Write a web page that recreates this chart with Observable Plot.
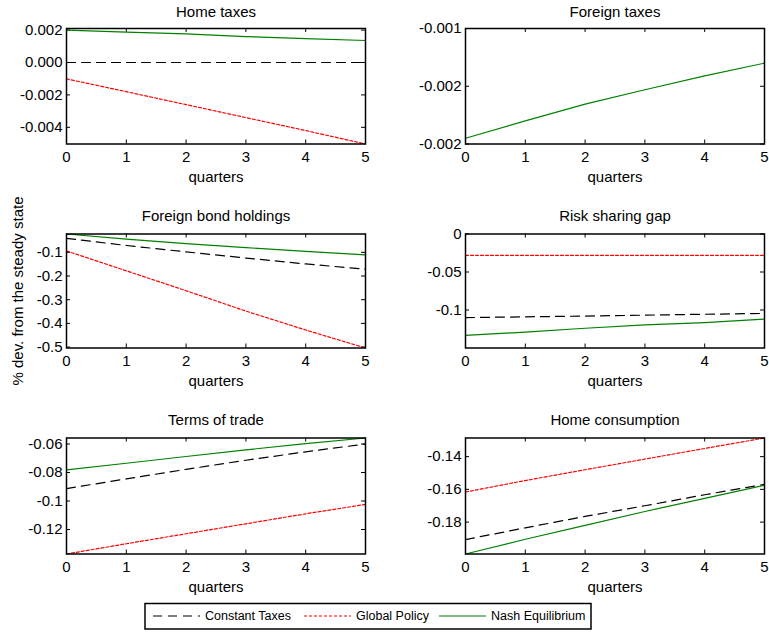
<!DOCTYPE html>
<html>
<head>
<meta charset="utf-8">
<script src="https://cdn.jsdelivr.net/npm/d3@7"></script>
<script src="https://cdn.jsdelivr.net/npm/@observablehq/plot@0.6"></script>
<style>
  body { margin: 0; background: #fff; }
  #chart { position: relative; width: 769px; height: 635px; background: #fff; font-family: "Liberation Sans", Arial, sans-serif; }
  #chart > svg { position: absolute; }
</style>
</head>
<body>
<div id="chart"></div>
<script>
// ---- data ----
const quarters = [0, 1, 2, 3, 4, 5];
const seriesNames = ["Constant Taxes", "Global Policy", "Nash Equilibrium"];

// Home taxes
const homeTaxesConst  = [0, 0, 0, 0, 0, 0];
const homeTaxesGlobal = [-0.00101, -0.0018, -0.0026, -0.0034, -0.0042, -0.00503];
const homeTaxesNash   = [0.0020, 0.00188, 0.00177, 0.00160, 0.00148, 0.00136];
const homeTaxesTicks  = [0.002, 0, -0.002, -0.004];
const homeTaxesLabels = ["0.002", "0.000", "-0.002", "-0.004"];

// Foreign taxes
const foreignTaxesNash   = [-0.00195, -0.0018, -0.001655, -0.00153, -0.00141, -0.0013];
const foreignTaxesTicks  = [-0.001, -0.0015, -0.002];
const foreignTaxesLabels = ["-0.001", "-0.002", "-0.002"];

// Foreign bond holdings
const bondsConst  = [-0.041, -0.071, -0.098, -0.124, -0.149, -0.171];
const bondsGlobal = [-0.094, -0.178, -0.262, -0.348, -0.428, -0.504];
const bondsNash   = [-0.0225, -0.044, -0.063, -0.080, -0.096, -0.111];
const bondsTicks  = [-0.1, -0.2, -0.3, -0.4, -0.5];
const bondsLabels = ["-0.1", "-0.2", "-0.3", "-0.4", "-0.5"];

// Risk sharing gap
const riskConst  = [-0.110, -0.109, -0.108, -0.1068, -0.1056, -0.1045];
const riskGlobal = [-0.028, -0.028, -0.028, -0.028, -0.028, -0.028];
const riskNash   = [-0.1335, -0.129, -0.124, -0.1197, -0.1167, -0.112];
const riskTicks  = [0, -0.05, -0.1];
const riskLabels = ["0", "-0.05", "-0.1"];

// Terms of trade
const totConst  = [-0.0913, -0.0845, -0.0778, -0.0714, -0.0655, -0.0600];
const totGlobal = [-0.1372, -0.1300, -0.1230, -0.1160, -0.1090, -0.1024];
const totNash   = [-0.0781, -0.0735, -0.0688, -0.0641, -0.0598, -0.0558];
const totTicks  = [-0.06, -0.08, -0.1, -0.12];
const totLabels = ["-0.06", "-0.08", "-0.1", "-0.12"];

// Home consumption
const consConst  = [-0.1907, -0.1835, -0.1765, -0.1700, -0.1633, -0.1569];
const consGlobal = [-0.1616, -0.1546, -0.1480, -0.1415, -0.1350, -0.1286];
const consNash   = [-0.1995, -0.1905, -0.1820, -0.1735, -0.1655, -0.1575];
const consTicks  = [-0.14, -0.16, -0.18];
const consLabels = ["-0.14", "-0.16", "-0.18"];

// ---- styles ----
const lineStyles = {
  "Constant Taxes":   {stroke: "#000000", strokeDasharray: "9,6"},
  "Global Policy":    {stroke: "#ff0000", strokeDasharray: "3,2"},
  "Nash Equilibrium": {stroke: "#008000", strokeDasharray: null}
};

const FONT = "'Liberation Sans', Arial, sans-serif";

function rows(arr) { return quarters.map((q, i) => ({q, v: arr[i]})); }

function panel(cfg) {
  const {title, series, yDomain, yTicks, yLabels, col, row, ylabel} = cfg;
  const width = col === 0 ? 384 : 385;
  const marginLeft = col === 0 ? 66 : 81;
  const marginRight = col === 0 ? 19 : 5;
  const height = 200;
  const mt = [28, 33.5, 37.5][row];
  const mb = [56.5, 52.5, 46.5][row];
  const titleDy = [-16.5, -17.7, -18.3][row];
  const fh = height - mt - mb;
  const fw = width - marginLeft - marginRight;
  const labelMap = new Map(yTicks.map((t, i) => [t, yLabels[i]]));
  const marks = [
    Plot.axisX(quarters, {tickSize: 0, tickPadding: 7, label: null, tickFormat: d => String(d), fontSize: 15}),
    Plot.axisY(yTicks, {tickSize: 0, tickPadding: 4, label: null, tickFormat: d => labelMap.get(d), fontSize: 15}),
    Plot.tickX(quarters, {x: d => d, insetTop: fh - 4, stroke: "black"}),
    Plot.tickX(quarters, {x: d => d, insetBottom: fh - 4, stroke: "black"}),
    Plot.tickY(yTicks, {y: d => d, insetRight: fw - 4, stroke: "black"}),
    Plot.tickY(yTicks, {y: d => d, insetLeft: fw - 4, stroke: "black"})
  ];
  for (const [name, arr] of series) {
    const s = lineStyles[name];
    marks.push(Plot.line(rows(arr), {x: "q", y: "v", stroke: s.stroke, strokeDasharray: s.strokeDasharray, strokeWidth: 1.2}));
  }
  marks.push(Plot.frame({stroke: "black", strokeWidth: 1.5}));
  marks.push(Plot.text([title], {frameAnchor: "top", lineAnchor: "middle", textAnchor: "middle", dy: titleDy, fontSize: 15, fill: "black"}));
  marks.push(Plot.text(["quarters"], {frameAnchor: "bottom", lineAnchor: "middle", textAnchor: "middle", dy: 33, fontSize: 15, fill: "black"}));
  if (ylabel) marks.push(Plot.text([ylabel], {frameAnchor: "left", lineAnchor: "middle", textAnchor: "middle", dx: -48, rotate: -90, fontSize: 15, fill: "black"}));
  const svg = Plot.plot({
    width, height, marginLeft, marginRight, marginTop: mt, marginBottom: mb,
    x: {domain: [0, 5]},
    y: {domain: yDomain},
    style: {fontFamily: FONT, fontSize: "15px", color: "black", background: "transparent", overflow: "visible"},
    marks
  });
  svg.style.left = (col === 0 ? 0 : 384) + "px";
  svg.style.top = (row * 200) + "px";
  return svg;
}

const chart = document.getElementById("chart");
chart.append(panel({title: "Home taxes", col: 0, row: 0, yDomain: [-0.00503, 0.0021], yTicks: homeTaxesTicks, yLabels: homeTaxesLabels,
  series: [["Constant Taxes", homeTaxesConst], ["Global Policy", homeTaxesGlobal], ["Nash Equilibrium", homeTaxesNash]]}));
chart.append(panel({title: "Foreign taxes", col: 1, row: 0, yDomain: [-0.002, -0.001], yTicks: foreignTaxesTicks, yLabels: foreignTaxesLabels,
  series: [["Nash Equilibrium", foreignTaxesNash]]}));
chart.append(panel({title: "Foreign bond holdings", col: 0, row: 1, yDomain: [-0.504, -0.0225], yTicks: bondsTicks, yLabels: bondsLabels,
  ylabel: "% dev. from the steady state",
  series: [["Constant Taxes", bondsConst], ["Global Policy", bondsGlobal], ["Nash Equilibrium", bondsNash]]}));
chart.append(panel({title: "Risk sharing gap", col: 1, row: 1, yDomain: [-0.15, 0], yTicks: riskTicks, yLabels: riskLabels,
  series: [["Constant Taxes", riskConst], ["Global Policy", riskGlobal], ["Nash Equilibrium", riskNash]]}));
chart.append(panel({title: "Terms of trade", col: 0, row: 2, yDomain: [-0.1372, -0.0558], yTicks: totTicks, yLabels: totLabels,
  series: [["Constant Taxes", totConst], ["Global Policy", totGlobal], ["Nash Equilibrium", totNash]]}));
chart.append(panel({title: "Home consumption", col: 1, row: 2, yDomain: [-0.1995, -0.1286], yTicks: consTicks, yLabels: consLabels,
  series: [["Constant Taxes", consConst], ["Global Policy", consGlobal], ["Nash Equilibrium", consNash]]}));

// ---- legend ----
const legendX = [9, 160, 295];
const legend = d3.create("svg").attr("width", 452).attr("height", 32)
  .style("left", "144px").style("top", "602px").style("position", "absolute");
legend.append("rect").attr("x", 1).attr("y", 1.5).attr("width", 446).attr("height", 25.5)
  .attr("fill", "white").attr("stroke", "black").attr("stroke-width", 1.5);
seriesNames.forEach((name, i) => {
  const s = lineStyles[name];
  const x0 = legendX[i];
  legend.append("line").attr("x1", x0).attr("x2", x0 + 47).attr("y1", 14).attr("y2", 14)
    .attr("stroke", s.stroke).attr("stroke-width", 1.2).attr("stroke-dasharray", s.strokeDasharray);
  legend.append("text").attr("x", x0 + 52).attr("y", 14).attr("dy", "0.35em")
    .attr("font-family", FONT).attr("font-size", 12.5).attr("fill", "black").text(name);
});
chart.append(legend.node());
</script>
</body>
</html>
